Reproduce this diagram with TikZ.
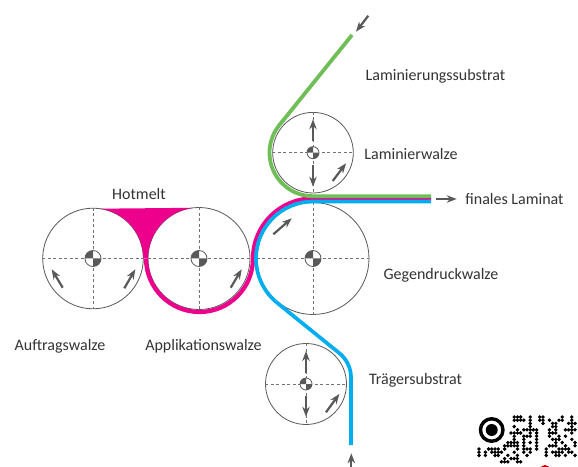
\documentclass[tikz,border=0pt]{standalone}
\usepackage{fontspec}
\setmainfont{Carlito}
\usetikzlibrary{arrows.meta,calc}
\definecolor{cblue}{HTML}{00AEEF}
\definecolor{cmag}{HTML}{EC008C}
\definecolor{cgreen}{HTML}{6FBE57}
\definecolor{cgrey}{HTML}{595959}
\definecolor{ctext}{HTML}{333333}
\tikzset{
  roll/.style={circle,draw=cgrey,line width=0.8pt,fill=white,inner sep=0pt,minimum size=#1},
  axis/.style={draw=cgrey!85,line width=0.75pt,dash pattern=on 3pt off 2.5pt},
  flow/.style={draw=cgrey,line width=2.2pt,-{Stealth[length=10pt,width=7.5pt]}},
  web/.style={line width=#1,line join=round},
  lab/.style={text=ctext,font=\fontsize{16}{18}\selectfont,inner sep=0pt,anchor=center},
}
\newcommand{\rollaxes}[1]{\draw[axis] (#1.west) -- (#1.east); \draw[axis] (#1.north) -- (#1.south);}
\newcommand{\rollhub}[2]{%
  \fill[white] (#1.center) circle (#2pt);
  \fill[cgrey] (#1.center) -- ++(180:#2pt) arc[start angle=180,end angle=90,radius=#2pt] -- cycle;
  \fill[cgrey] (#1.center) -- ++(0:#2pt) arc[start angle=0,end angle=-90,radius=#2pt] -- cycle;
  \draw[cgrey,line width=0.8pt] (#1.center) circle (#2pt);}
\begin{document}
\begin{tikzpicture}[x=1pt,y=1pt]
\useasboundingbox (0,0) rectangle (578,466);
\clip (0,0) rectangle (578,466);
% rollers
\node[roll=100.6pt] (A) at (93,207.5) {};
\node[roll=102pt] (B) at (199,207.5) {};
\node[roll=112pt] (G) at (313,207.5) {};
\node[roll=80.6pt] (L) at (313,313.3) {};
\node[roll=81pt] (T) at (306,82) {};
\rollaxes{A}\rollaxes{B}\rollaxes{G}\rollaxes{L}\rollaxes{T}
\rollhub{A}{8}\rollhub{B}{8}\rollhub{G}{8}\rollhub{L}{6}\rollhub{T}{6}
% motion arrows
\draw[flow] (62.7,178.3) -- (51.7,196.7);
\draw[flow] (124.3,177.7) -- (135.3,196.7);
\draw[flow] (230.7,178.3) -- (241.7,196.7);
\draw[flow] (273.3,231.7) -- (291.7,247.7);
\draw[flow] (332.7,285) -- (346,302.7);
\draw[flow] (313,325.3) -- (313,346.7);
\draw[flow] (313,301) -- (313,279.3);
\draw[flow] (306,92.7) -- (306,115);
\draw[flow] (306,70) -- (306,49.3);
\draw[flow] (326,53.7) -- (339.3,72);
\draw[flow] (368.3,450.3) -- (356,434.3);
\draw[flow] (436,267) -- (456.7,267);
\draw[flow] (351.3,-1) -- (351.3,12.7);
% hotmelt pool
\fill[cmag] ($(A.center)+(82:50.3pt)$) arc[start angle=82,end angle=0,radius=50.3pt]
  -- ($(B.center)+(180:51pt)$) arc[start angle=180,end angle=96,radius=51pt] -- cycle;
% webs
\draw[cmag,web=4.2pt] (431,267.5) -- ($(G.center)+(90:60pt)$)
  arc[start angle=90,end angle=180,radius=60pt]
  arc[start angle=0,end angle=-180,radius=53.5pt];
\draw[cblue,web=3.7pt] (431,264.5) -- ($(G.center)+(90:57pt)$)
  arc[start angle=90,end angle=232,radius=57pt]
  -- (339.5,112.7) .. controls (346.4,107.3) and (351,97.8) .. (351,89) -- (351,21);
\draw[cgreen,web=3.8pt] (352,431) -- ($(L.center)+(142:43.5pt)$)
  arc[start angle=142,end angle=270,radius=43.5pt] -- (431,269.8);
% labels
\node[lab] (n1) at (435.5,389.3) {Laminierungssubstrat};
\node[lab] (n2) at (411,312.3) {Laminierwalze};
\node[lab] (n3) at (139,271.5) {Hotmelt};
\node[lab] (n4) at (514.5,266.5) {finales Laminat};
\node[lab] (n5) at (441,190.3) {Gegendruckwalze};
\node[lab] (n6) at (60,119.5) {Auftragswalze};
\node[lab] (n7) at (203.5,119.5) {Applikationswalze};
\node[lab] (n8) at (415.5,85.3) {Trägersubstrat};
% code pattern
\fill[black,even odd rule] (491.7,36) circle (13pt) circle (9.5pt);
\fill[black] (491.7,36) circle (6pt);
\fill[red!80!black] (545,-4) circle (5pt);
\foreach \r/\cs in {
 0/{11,12,13,16,19,20,26,29},
 1/{11,12,13,14,16,19,20,22,25,26,29},
 2/{16,20,23,24,28,29,30},
 3/{11,16,23,24,29},
 4/{12,14,15,16,17,18,22,24,27,28,29,30},
 5/{10,11,12,13,16,18,22,23,24,29},
 6/{11,14,15,16,18,22,25,27},
 7/{11,14,18,23,24,25,29},
 8/{9,10,11,12,14,16,18,24,26,30},
 9/{8,9,10,11,12,14,18,22,23,24,27,30},
 10/{0,3,4,5,6,8,12,14,15,16,18,21,25,26,27,28},
 11/{0,2,4,5,6,7,11,14,16,21,23,24,25,26,28,29},
 12/{0,2,5,6,9,12,15,21,24,25,27,30},
 13/{8,10,11,12},
 14/{7,8,9,12,13}}{
  \foreach \c in \cs { \fill[black] ({479+3.2*\c},{49-3.2*\r}) circle (1.9pt); }
}
\end{tikzpicture}
\end{document}
